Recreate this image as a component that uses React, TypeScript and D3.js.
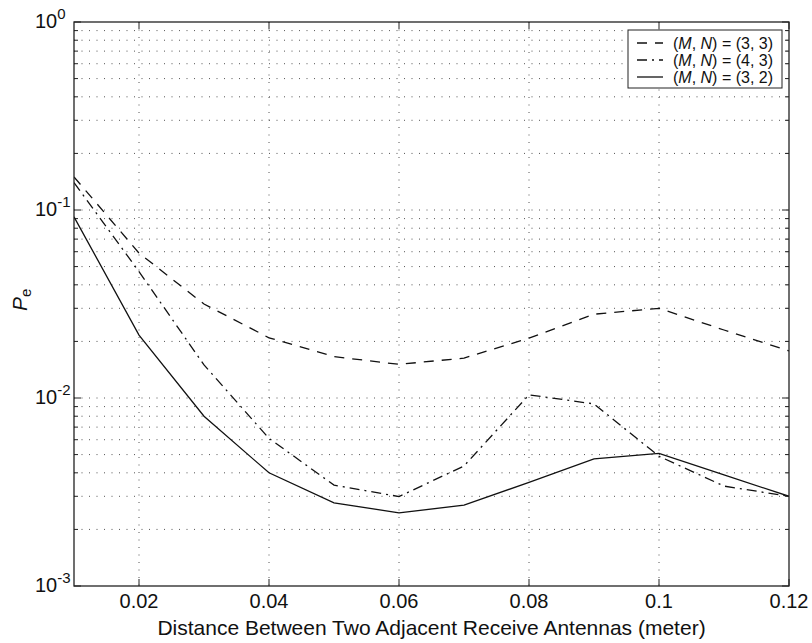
import React from 'react'
import * as d3 from 'd3'

// antenna spacing (meter)
const distances = [0.01, 0.02, 0.03, 0.04, 0.05, 0.06, 0.07, 0.08, 0.09, 0.1, 0.11, 0.12]
// error probability for each (M, N)
const pe33 = [0.15, 0.059, 0.0316, 0.0209, 0.0166, 0.0151, 0.0163, 0.0208, 0.0279, 0.03, 0.023, 0.0178]
const pe43 = [0.14, 0.047, 0.015, 0.0061, 0.00344, 0.00299, 0.00435, 0.0104, 0.0093, 0.0049, 0.0034, 0.003]
const pe32 = [0.092, 0.0216, 0.008, 0.004, 0.00277, 0.00245, 0.00269, 0.00356, 0.00474, 0.00508, 0.0039, 0.003]

const xTicks = [0.02, 0.04, 0.06, 0.08, 0.1, 0.12]
const xTickLabels = ['0.02', '0.04', '0.06', '0.08', '0.1', '0.12']
const yDecades = [1e-3, 1e-2, 1e-1, 1]
const yExponents = ['-3', '-2', '-1', '0']
const legendLabels = [['3', '3'], ['4', '3'], ['3', '2']]

const W = 812, H = 643
const L = 74, R = 789, T = 22, B = 586
const font = '"Liberation Sans", Arial, Helvetica, sans-serif'

export default function App() {
  const x = d3.scaleLinear().domain([0.01, 0.12]).range([L, R])
  const y = d3.scaleLog().domain([1e-3, 1]).range([B, T])

  const line = d3.line<number>()
    .x((_, i) => x(distances[i]))
    .y(d => y(d))

  // minor log values inside each decade
  const minors: number[] = []
  for (let k = 0; k < 3; k++) {
    for (let m = 2; m <= 9; m++) minors.push(m * yDecades[k])
  }
  const gridY = [...minors, 1e-2, 1e-1]

  const series = [
    { data: pe33, dash: '10 8' },
    { data: pe43, dash: '10 5 2 5' },
    { data: pe32, dash: null as string | null },
  ]

  return (
    <svg width={W} height={H} style={{ position: 'absolute', left: 0, top: 0, background: '#fff' }}>
      <rect x={0} y={0} width={W} height={H} fill="#fff" />
      {/* grid */}
      <g stroke="#555" strokeWidth={1} strokeDasharray="1 6.5">
        {xTicks.filter(t => t < 0.12).map(t => (
          <line key={'gx' + t} x1={x(t)} x2={x(t)} y1={T} y2={B} />
        ))}
        {gridY.map(v => (
          <line key={'gy' + v} x1={L} x2={R} y1={y(v)} y2={y(v)} />
        ))}
      </g>
      {/* ticks */}
      <g stroke="#222" strokeWidth={1}>
        {xTicks.map(t => (
          <g key={'tx' + t}>
            <line x1={x(t)} x2={x(t)} y1={B} y2={B - 7} />
            <line x1={x(t)} x2={x(t)} y1={T} y2={T + 7} />
          </g>
        ))}
        {yDecades.map(v => (
          <g key={'ty' + v}>
            <line x1={L} x2={L + 7} y1={y(v)} y2={y(v)} />
            <line x1={R} x2={R - 7} y1={y(v)} y2={y(v)} />
          </g>
        ))}
        {minors.map(v => (
          <g key={'tm' + v}>
            <line x1={L} x2={L + 4} y1={y(v)} y2={y(v)} />
            <line x1={R} x2={R - 4} y1={y(v)} y2={y(v)} />
          </g>
        ))}
      </g>
      {/* curves */}
      <defs>
        <clipPath id="plotclip">
          <rect x={L} y={T} width={R - L} height={B - T} />
        </clipPath>
      </defs>
      <g clipPath="url(#plotclip)" fill="none" stroke="#111" strokeWidth={1.3}>
        {series.map((s, i) => (
          <path key={i} d={line(s.data) || ''} strokeDasharray={s.dash || undefined} />
        ))}
      </g>
      {/* frame */}
      <rect x={L} y={T} width={R - L} height={B - T} fill="none" stroke="#222" strokeWidth={1.3} />
      {/* tick labels */}
      <g fontFamily={font} fill="#111">
        {xTicks.map((t, i) => (
          <text key={'lx' + t} x={x(t)} y={608} fontSize={20} textAnchor="middle">{xTickLabels[i]}</text>
        ))}
        {yDecades.map((v, i) => (
          <text key={'ly' + v} x={35} y={y(v) + 6} fontSize={20}>
            10<tspan fontSize={15} dy={-9}>{yExponents[i]}</tspan>
          </text>
        ))}
        <text x={(L + R) / 2} y={635} fontSize={21} textAnchor="middle">
          Distance Between Two Adjacent Receive Antennas (meter)
        </text>
        <text transform="translate(27,311) rotate(-90)" fontSize={21}>
          <tspan fontStyle="italic">P</tspan>
          <tspan fontSize={15} dy={4}>e</tspan>
        </text>
      </g>
      {/* legend */}
      <g fontFamily={font} fill="#111">
        <rect x={628} y={30} width={154} height={58} fill="#fff" stroke="#222" strokeWidth={1} />
        {series.map((s, i) => {
          const ly = 43 + i * 17
          return (
            <g key={'lg' + i}>
              <line x1={637} x2={663} y1={ly} y2={ly} stroke="#111" strokeWidth={1.3}
                strokeDasharray={s.dash || undefined} />
              <text x={673} y={ly + 5.5} fontSize={16}>
                (<tspan fontStyle="italic">M</tspan>, <tspan fontStyle="italic">N</tspan>) = ({legendLabels[i][0]}, {legendLabels[i][1]})
              </text>
            </g>
          )
        })}
      </g>
    </svg>
  )
}
